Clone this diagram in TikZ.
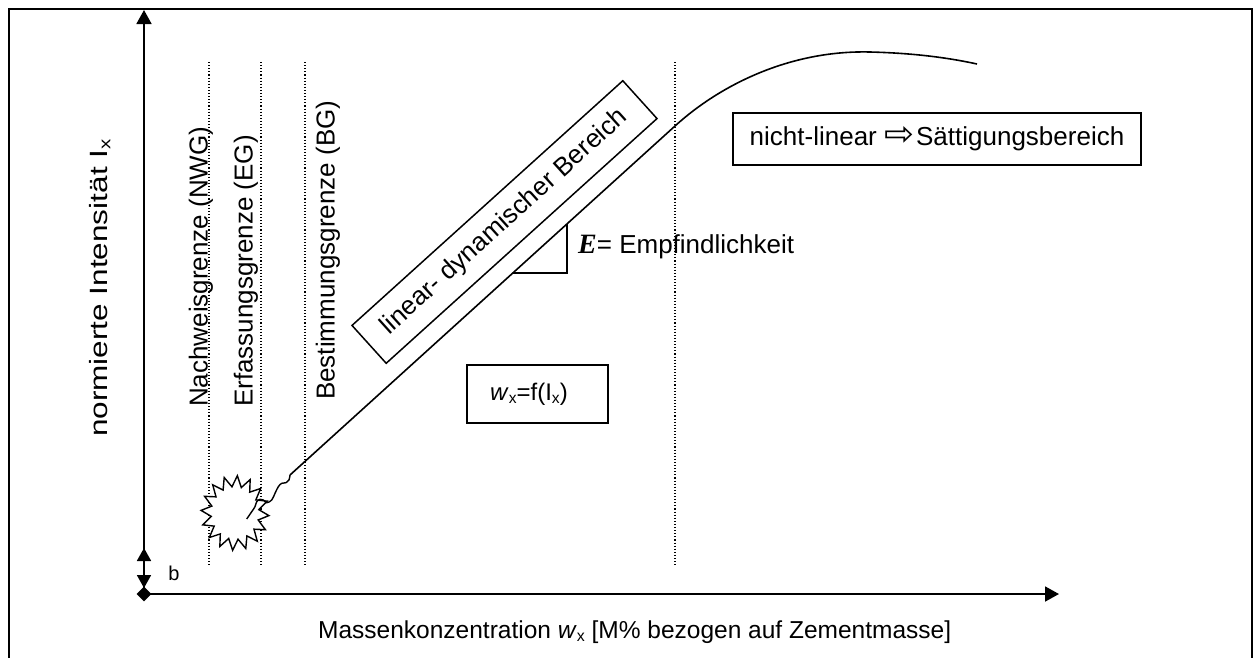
\documentclass[tikz,border=0pt]{standalone}
\usepackage{fontspec}
\setmainfont{Liberation Sans}
\newfontfamily\serifE{Liberation Serif}
\newfontfamily\dejavu{DejaVu Sans}
\usetikzlibrary{arrows.meta,shapes.geometric}
\newcommand\myfs[1]{\fontsize{#1}{#1}\selectfont}
\newcommand\sbx[1]{\raisebox{-0.25ex}{\scalebox{0.65}{#1}}}
\begin{document}
\begin{tikzpicture}[x=1pt,y=-1pt,
  axisline/.style={line width=1.8pt},
  bigtip/.style={-{Triangle[length=14pt,width=15pt]}},
  limitline/.style={line width=1.1pt, dash pattern=on 1.1pt off 2pt},
  labelbox/.style={draw, line width=1.5pt},
  vlabel/.style={rotate=90, anchor=base west, inner sep=0pt, font=\myfs{26}}]
\useasboundingbox (0,0) rectangle (1253,657);
% frame
\draw[line width=1.6pt] (9,680) -- (9,9) -- (1252,9) -- (1252,680);
% coordinates
\coordinate (O) at (144,594);
\coordinate (ytop) at (144,10);
\coordinate (xend) at (1059,594);
\coordinate (bt) at (144,548);
\coordinate (bb) at (144,588);
% limit lines
\foreach \xx/\nm in {209/l1,261/l2,305/l3,675/l4}{
  \coordinate (\nm t) at (\xx,62);
  \coordinate (\nm b) at (\xx,566);
  \draw[limitline] (\nm t) -- (\nm b);
}
% starburst
\draw[fill=white, line width=1.4pt] plot[samples at={0,...,31}, variable=\k]
  ({235+(29+5*cos(180*\k))*cos(\k*11.25+4)}, {513+1.1*(29+5*cos(180*\k))*sin(\k*11.25+4)}) -- cycle;
% axes
\draw[axisline,bigtip] (O) -- (ytop);
\draw[axisline,bigtip] (O) -- (xend);
\draw[axisline,{Triangle[length=13pt,width=14pt]}-{Triangle[length=13pt,width=14pt]}] (bb) -- (bt);
\node[diamond, fill, inner sep=0pt, minimum size=15pt] (origin) at (O) {};
\node[font=\myfs{20}] (b) at (174,573) {b};
% calibration curve
\coordinate (c0) at (290,475);
\coordinate (c1) at (675,126);
\coordinate (c2) at (870,52);
\coordinate (c3) at (977,64);
\draw[line width=1.6pt] (c0) -- (c1) .. controls (720,85) and (790,50) .. (c2) .. controls (910,53) and (945,57) .. (c3);
\draw[line width=1.4pt] plot[smooth, tension=0.6] coordinates {(290,475) (289,480) (286,482.7) (281.7,483.3) (278.3,486.7) (275,493.3) (271.7,500) (266.7,502.7) (263.3,500) (260,499.3) (256.7,501.7) (255,506.7) (251.7,511.7) (246.7,519)};
% slope triangle
\coordinate (s1) at (513,273);
\coordinate (s2) at (567,273);
\coordinate (s3) at (567,224);
\draw[line width=1.5pt] (s1) -- (s2) -- (s3);
\node[anchor=base west, inner sep=0pt, font=\myfs{26}] (E) at (578,253) {{\serifE\bfseries\itshape\myfs{28}E}= Empfindlichkeit};
% boxes
\node[labelbox, rotate=42.1, minimum width=365pt, minimum height=51pt, font=\myfs{26}] (lin) at (504.5,222) {linear- dynamischer Bereich};
\node[labelbox, minimum width=141pt, minimum height=58pt, font=\myfs{24}] (wf) at (537.5,394) {\textit{w}\sbx{x}=f(I\sbx{x})\hspace*{17pt}};
\node[labelbox, minimum width=408pt, minimum height=52pt, font=\myfs{26}] (sat) at (937,139) {nicht-linear {\dejavu\resizebox{30pt}{19pt}{⇨}}\hspace{2pt}Sättigungsbereich};
% limit labels
\node[vlabel] (nwg) at (207.5,407) {Nachweisgrenze (NWG)};
\node[vlabel] (eg) at (252.5,407) {Erfassungsgrenze (EG)};
\node[vlabel] (bg) at (334.5,400) {Bestimmungsgrenze (BG)};
\node[vlabel, font=\myfs{25}] (ylab) at (107,437) {\scalebox{1.26}[1]{normierte Intensität I\sbx{x}}};
% x label
\node[anchor=base west, inner sep=0pt, font=\myfs{24.5}] (xlab) at (318,638) {Massenkonzentration \textit{w}\sbx{x} [M\% bezogen auf Zementmasse]};
\end{tikzpicture}
\end{document}
